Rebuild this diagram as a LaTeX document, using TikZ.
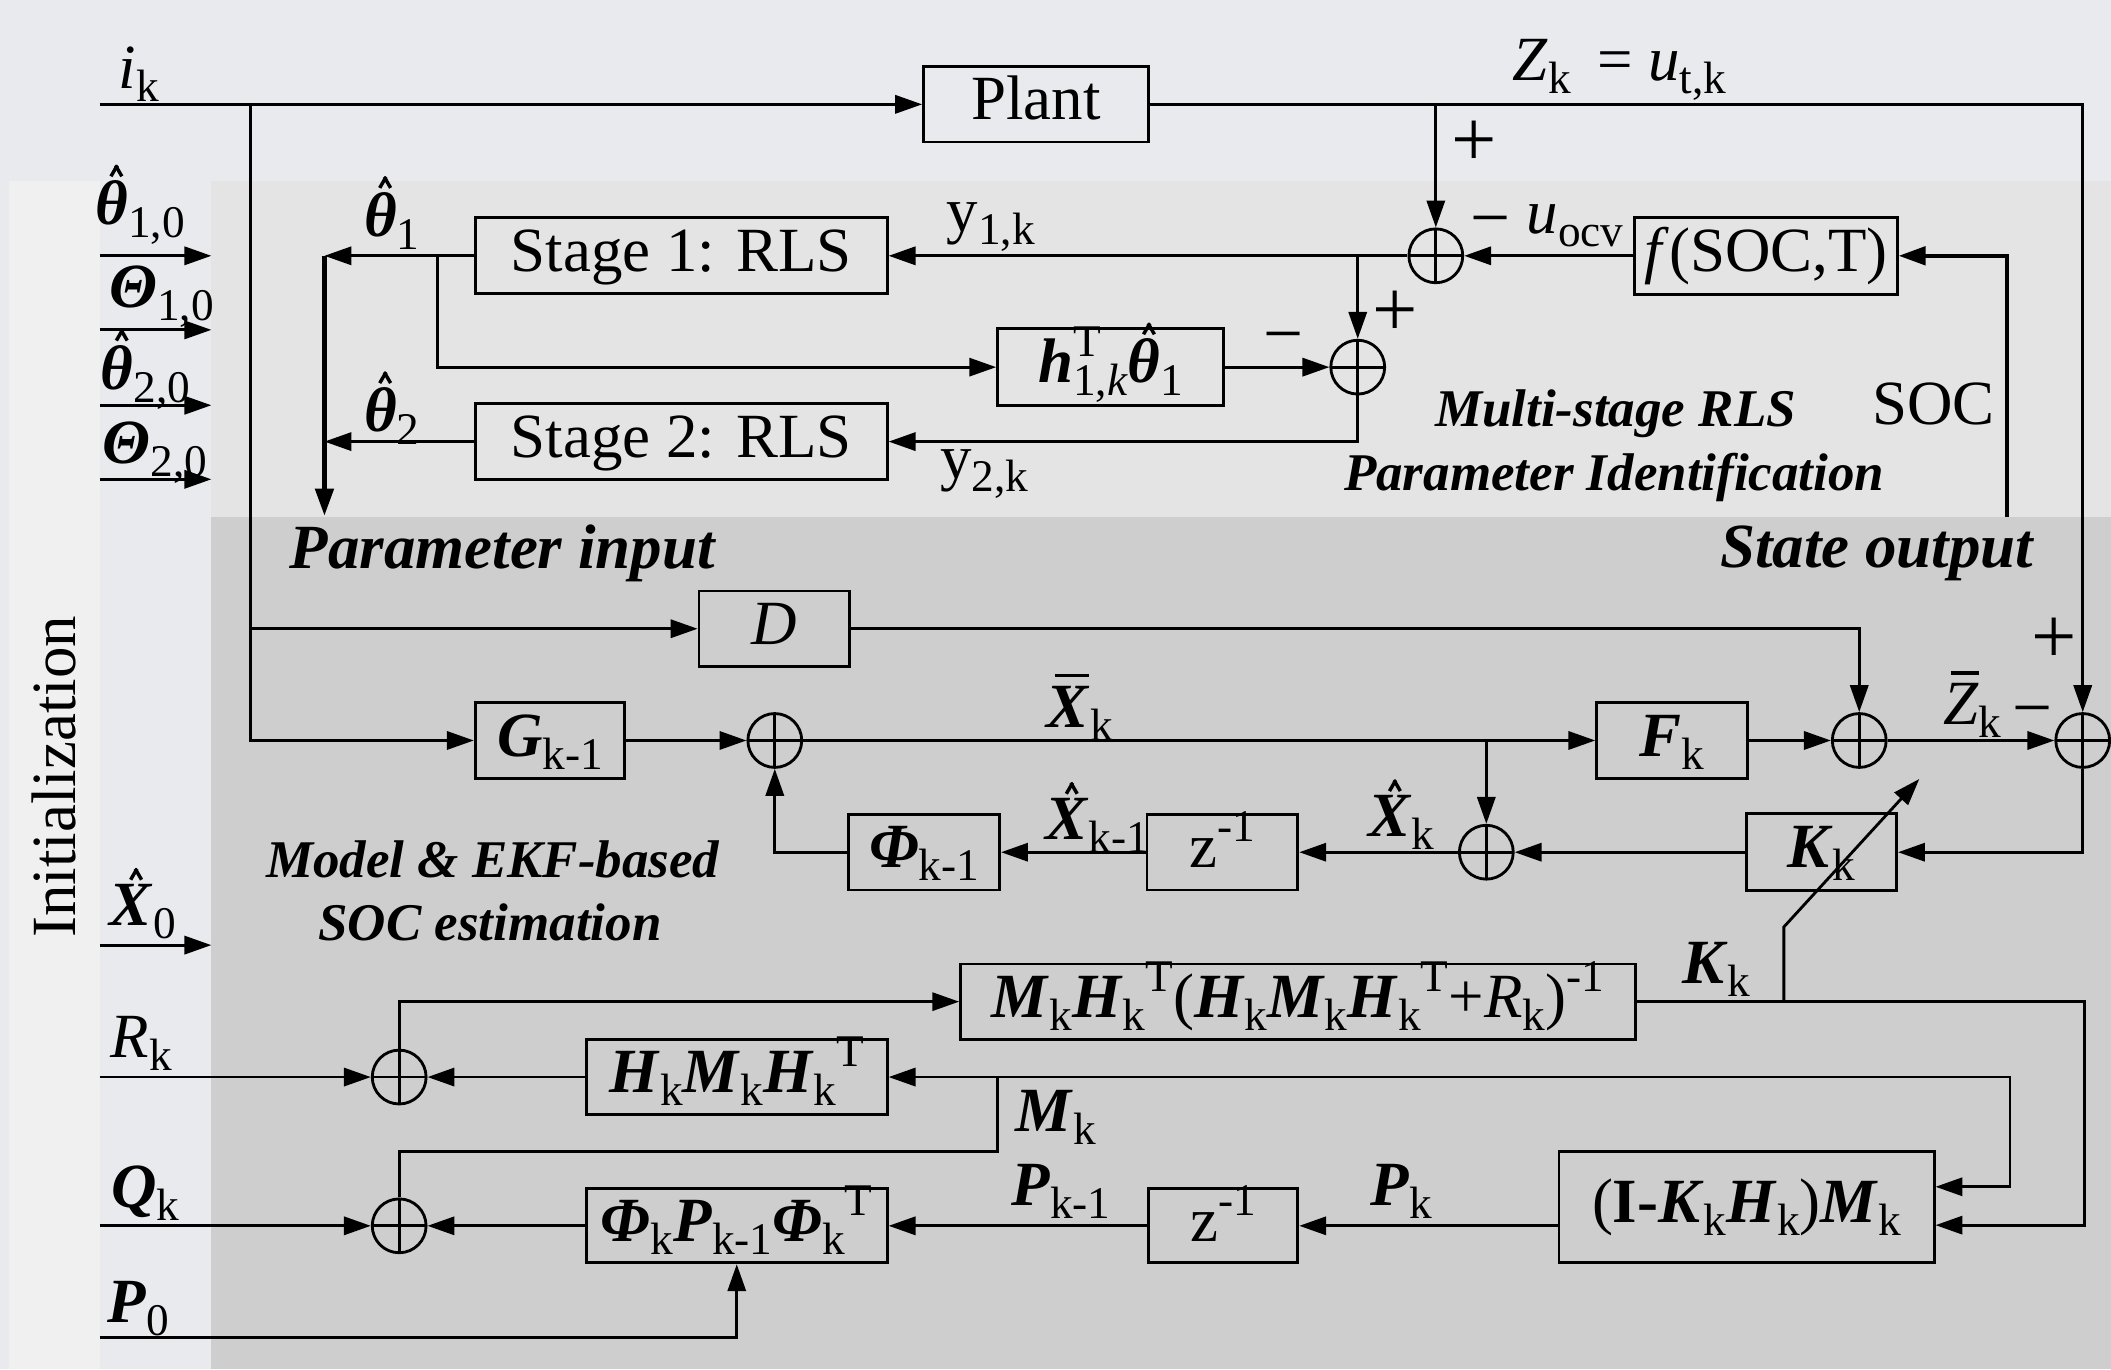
\documentclass[tikz,border=0pt]{standalone}
\usepackage{graphicx}
\usepackage{fontspec}
\setmainfont{Liberation Serif}
\usetikzlibrary{arrows.meta}
\definecolor{bgc}{HTML}{E8EAEE}
\definecolor{initc}{HTML}{F0F0F0}
\definecolor{upc}{HTML}{E4E4E4}
\definecolor{lowc}{HTML}{CECECE}
\newcommand\mainsize{\fontsize{13.3}{16}\selectfont}
\newcommand\smallsize{\fontsize{11.2}{13}\selectfont}
\newcommand\bi[1]{\textbf{\textit{#1}}}
\newcommand\sbs[1]{\raisebox{-0.45ex}{\scalebox{0.72}{#1}}}
\newcommand\sps[1]{\raisebox{0.9ex}{\scalebox{0.72}{#1}}}
\newcommand\sbsp[2]{\rlap{\sps{#2}}\sbs{#1}}
\newcommand\hatmark{\rotatebox[origin=c]{60}{\rule{0.2em}{0.055em}}\kern-0.075em\rotatebox[origin=c]{-60}{\rule{0.2em}{0.055em}}}
\newcommand\hatx[1]{{\setbox0\hbox{#1}\rlap{\hbox to \wd0{\hss\kern0.15em\raisebox{\dimexpr\ht0+0.13em\relax}{\hatmark}\hss}}\box0}}
\newcommand\ovl[1]{{\setbox0\hbox{#1}\rlap{\hbox to \wd0{\hss\kern0.12em\raisebox{\dimexpr\ht0+0.3ex\relax}{\rule{0.8\wd0}{0.06em}}\hss}}\box0}}
\begin{document}
\begin{tikzpicture}[x=0.1mm,y=-0.1mm, font=\mainsize, line width=0.6pt,
  box/.style={draw, line width=0.6pt, inner sep=0pt, font=\mainsize, text height=0.9em, text depth=0.24em},
  sumn/.style={circle, draw, line width=0.6pt, minimum size=4mm, inner sep=0pt,
    path picture={\draw[line width=0.6pt] (path picture bounding box.north) -- (path picture bounding box.south)
      (path picture bounding box.west) -- (path picture bounding box.east);}},
  arr/.style={-{Triangle[length=2mm,width=1.35mm]}, line width=0.6pt},
  tharr/.style={-{Triangle[length=2mm,width=1.35mm]}, line width=0.9pt},
  lab/.style={inner sep=0pt, font=\mainsize},
  bilab/.style={inner sep=0pt, font=\mainsize\bfseries\itshape},
  smalllab/.style={inner sep=0pt, font=\smallsize\bfseries\itshape},
  plussign/.style={inner sep=0pt, font=\fontsize{17}{17}\selectfont},
  minussign/.style={inner sep=0pt, font=\fontsize{15}{16}\selectfont}]
% backgrounds
\fill[bgc] (0,0) rectangle (1568,1017);
\useasboundingbox (0,0) rectangle (1568,1017);
\fill[initc] (7,134.5) rectangle (74,1017);
\fill[upc] (157,134.5) rectangle (1568,384);
\fill[lowc] (157,384) rectangle (1568,1017);

% ---------- blocks: upper part ----------
\node[box, minimum width=16.7mm, minimum height=5.6mm] (plant) at (769.5,77.5) {Plant};
\node[box, minimum width=30.6mm, minimum height=5.65mm] (st1) at (506,190) {Stage 1: RLS};
\node[box, minimum width=30.6mm, minimum height=5.65mm] (st2) at (506,328) {Stage 2: RLS};
\node[box, minimum width=16.8mm, minimum height=5.7mm] (hb) at (825,272.7) {\bi{h}\sbsp{1,\textit{k}}{T}\hatx{\bi{θ}}\sbs{1}};
\node[box, minimum width=19.5mm, minimum height=5.7mm] (fs) at (1311.7,190) {\textit{f}(SOC,T)};
\node[sumn] (s1) at (1066.5,190) {};
\node[sumn] (s2) at (1008.5,272.7) {};

% ---------- blocks: EKF part ----------
\node[box, minimum width=11.16mm, minimum height=5.6mm] (db) at (575,467) {\textit{D}};
\node[box, minimum width=11.1mm, minimum height=5.6mm] (gb) at (408.5,550) {\bi{G}\sbs{k-1}};
\node[sumn] (s6) at (575.5,550) {};
\node[box, minimum width=11.2mm, minimum height=5.6mm] (fk) at (1242,550) {\bi{F}\sbs{k}};
\node[sumn] (s5) at (1381,550) {};
\node[sumn] (s8) at (1547,550) {};
\node[sumn] (s7) at (1104,633) {};
\node[box, minimum width=11.2mm, minimum height=5.6mm] (z1) at (908,633) {z\sps{-1}};
\node[box, minimum width=11.2mm, minimum height=5.6mm] (ph) at (686.5,633) {\bi{Φ}\sbs{k-1}};
\node[box, minimum width=11.15mm, minimum height=5.7mm] (kb) at (1353,633) {\bi{K}\sbs{k}};
\node[box, minimum width=50.1mm, minimum height=5.6mm] (mk) at (964,744)
  {\bi{M}\sbs{k}\bi{H}\sbs{k}\sps{T}(\bi{H}\sbs{k}\bi{M}\sbs{k}\bi{H}\sbs{k}\sps{T}+\textit{R}\sbs{k})\sps{-1}};
\node[box, minimum width=22.35mm, minimum height=5.55mm] (hmh) at (547.25,800) {\bi{H}\sbs{k}\bi{M}\sbs{k}\bi{H}\sbs{k}\sps{T}};
\node[box, minimum width=22.35mm, minimum height=5.5mm] (php) at (547.25,910.5) {\bi{Φ}\sbs{k}\bi{P}\sbs{k-1}\bi{Φ}\sbs{k}\sps{T}};
\node[box, minimum width=11.1mm, minimum height=5.5mm] (z2) at (908.5,910.5) {z\sps{-1}};
\node[box, minimum width=27.86mm, minimum height=8.3mm] (ikh) at (1297.3,896.5) {(\textbf{I-}\bi{K}\sbs{k}\bi{H}\sbs{k})\bi{M}\sbs{k}};
\node[sumn] (s3) at (296.5,800) {};
\node[sumn] (s4) at (296.5,910.5) {};

% ---------- labels ----------
\node[lab] (ik) at (103,55) {\textit{i}\sbs{k}};
\node[lab] (zk) at (1203,52) {\textit{Z}\sbs{k}\, = \textit{u}\sbs{t,k}};
\node[plussign] (p1) at (1095,107) {+};
\node[minussign] (m1) at (1107,170) {−};
\node[lab] (uocv) at (1170,168) {\textit{u}\sbs{ocv}};
\node[lab] (y1) at (736,169) {y\sbs{1,k}};
\node[lab] (y2) at (731,352) {y\sbs{2,k}};
\node[plussign] (p2) at (1036,233) {+};
\node[minussign] (m2) at (953,256) {−};
\node[lab] (th1) at (291,158) {\hatx{\bi{θ}}\sbs{1}};
\node[lab] (th2) at (291,303) {\hatx{\bi{θ}}\sbs{2}};
\node[lab] (soc) at (1436,300) {SOC};
\node[smalllab] (ms1) at (1200,307) {Multi-stage RLS};
\node[smalllab] (ms2) at (1199,355) {Parameter Identification};
\node[bilab] (pin) at (373,411) {Parameter input};
\node[bilab] (sout) at (1394,411) {State output};
\node[lab, rotate=90] (init) at (40,577) {Initialization};
\node[lab] (th10) at (104,152) {\hatx{\bi{θ}}\sbs{1,0}};
\node[lab] (Th10) at (120,220) {\bi{Θ}\sbs{1,0}};
\node[lab] (th20) at (108,274) {\hatx{\bi{θ}}\sbs{2,0}};
\node[lab] (Th20) at (115,336) {\bi{Θ}\sbs{2,0}};
\node[lab] (x0) at (106,671) {\hatx{\bi{X}}\sbs{0}};
\node[lab] (rk) at (105,775) {\textit{R}\sbs{k}};
\node[lab] (qk) at (108,886) {\bi{Q}\sbs{k}};
\node[lab] (p0) at (103,972) {\bi{P}\sbs{0}};
\node[lab] (xbar) at (802,525) {\ovl{\bi{X}}\sbs{k}};
\node[lab] (zbar) at (1465,523) {\ovl{\textit{Z}}\sbs{k}};
\node[minussign] (m3) at (1510,534) {−};
\node[plussign] (p3) at (1526,476) {+};
\node[lab] (xhk1) at (815,607) {\hatx{\bi{X}}\sbs{k-1}};
\node[lab] (xhk) at (1041,605) {\hatx{\bi{X}}\sbs{k}};
\node[smalllab] (mod1) at (366,638) {Model \& EKF-based};
\node[smalllab] (mod2) at (364,685) {SOC estimation};
\node[lab] (kkl) at (1275,720) {\bi{K}\sbs{k}};
\node[lab] (mkl) at (784,830) {\bi{M}\sbs{k}};
\node[lab] (pk1l) at (788,885) {\bi{P}\sbs{k-1}};
\node[lab] (pkl) at (1041,885) {\bi{P}\sbs{k}};

% ---------- coordinates ----------
\coordinate (ikin) at (74,77.5);
\coordinate (ibr) at (186,77.5);
\coordinate (tv) at (241,190);
\coordinate (tvb) at (241,383);
\coordinate (hbr) at (325,190);
\coordinate (socb) at (1491,384);
\coordinate (a1s) at (74,190);   \coordinate (a1e) at (157,190);
\coordinate (a2s) at (74,245);   \coordinate (a2e) at (157,245);
\coordinate (a3s) at (74,301);   \coordinate (a3e) at (157,301);
\coordinate (a4s) at (74,356);   \coordinate (a4e) at (157,356);
\coordinate (x0s) at (74,702);   \coordinate (x0e) at (157,702);
\coordinate (rkin) at (74,800);
\coordinate (qkin) at (74,910.5);
\coordinate (p0in) at (74,993.6);
\coordinate (kd) at (1325,688.5);
\coordinate (ktip) at (1425.6,578.6);
\coordinate (rr) at (1548,744);
\coordinate (mj) at (741,800);
\coordinate (mlow) at (741,855);
\coordinate (mr) at (1493,800);

% ---------- connectors: upper ----------
\draw[arr] (ikin) -- (plant.west);
\draw[arr] (plant.east) -| (s8.north);
\draw[arr] (plant.east -| s1.north) -- (s1.north);
\draw[arr] (fs.west) -- (s1.east);
\draw[tharr] (socb) |- (fs.east);
\draw[arr] (s1.west) -- (st1.east);
\draw[arr] (st1.east -| s2.north) -- (s2.north);
\draw[arr] (hb.east) -- (s2.west);
\draw[arr] (s2.south) |- (st2.east);
\draw[arr] (st1.west) -- (tv);
\draw[arr] (st2.west) -- (st2.west -| tv);
\draw[arr] (hbr) |- (hb.west);
\draw[tharr] (tv) -- (tvb);
\draw[arr] (a1s) -- (a1e);
\draw[arr] (a2s) -- (a2e);
\draw[arr] (a3s) -- (a3e);
\draw[arr] (a4s) -- (a4e);
\draw[arr] (x0s) -- (x0e);

% ---------- connectors: EKF ----------
\draw[arr] (ibr) |- (gb.west);
\draw[arr] (ibr |- db.west) -- (db.west);
\draw[arr] (db.east) -| (s5.north);
\draw[arr] (gb.east) -- (s6.west);
\draw[arr] (s6.east) -- (fk.west);
\draw[arr] (s6.east -| s7.north) -- (s7.north);
\draw[arr] (fk.east) -- (s5.west);
\draw[arr] (s5.east) -- (s8.west);
\draw[arr] (s8.south) |- (kb.east);
\draw[arr] (kb.west) -- (s7.east);
\draw[arr] (s7.west) -- (z1.east);
\draw[arr] (z1.west) -- (ph.east);
\draw[arr] (ph.west) -| (s6.south);
\draw[arr] (kd |- mk.east) -- (kd) -- (ktip);
\draw[arr] (mk.east) -- (rr) |- ([yshift=-1.35mm]ikh.east);
\draw[arr] (s3.north) |- (mk.west);
\draw[arr] (hmh.west) -- (s3.east);
\draw[arr] (rkin) -- (s3.west);
\draw[arr] (qkin) -- (s4.west);
\draw[arr] (php.west) -- (s4.east);
\draw[arr] (z2.west) -- (php.east);
\draw[arr] (ikh.west |- z2.east) -- (z2.east);
\draw[arr] (p0in) -| (php.south);
\draw[arr] (mj) -- (hmh.east);
\draw[arr] (mj) -- (mr) |- ([yshift=1.5mm]ikh.east);
\draw (s4.north) |- (mlow) -- (mj);
\end{tikzpicture}
\end{document}
